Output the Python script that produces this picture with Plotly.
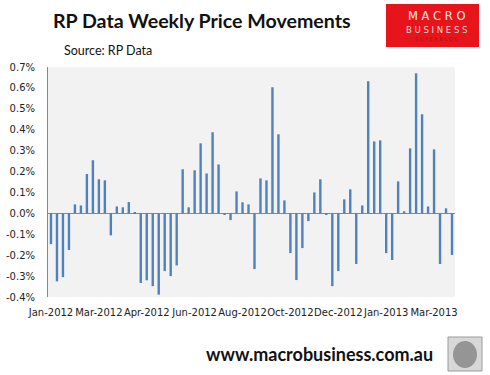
import plotly.graph_objects as go

# Weekly price movement (%), Jan-2012 .. Mar-2013
values = [
    -0.147, -0.325, -0.305, -0.175, 0.043, 0.038, 0.188, 0.254, 0.163, 0.158,
    -0.105, 0.033, 0.029, 0.054, 0.006, -0.333, -0.320, -0.348, -0.389, -0.276,
    -0.300, -0.249, 0.211, 0.029, 0.206, 0.335, 0.191, 0.388, 0.234, -0.008,
    -0.032, 0.105, 0.053, 0.043, -0.266, 0.167, 0.158, 0.603, 0.378, 0.062,
    -0.190, -0.319, -0.166, -0.037, 0.100, 0.163, -0.008, -0.348, -0.276, 0.067,
    0.115, -0.242, 0.038, 0.632, 0.344, 0.349, -0.190, -0.223, 0.153, 0.010,
    0.311, 0.670, 0.474, 0.033, 0.306, -0.242, 0.024, -0.199,
]
weeks = list(range(len(values)))
tick_weeks = [0, 8, 16, 24, 32, 40, 48, 56, 64]
tick_labels = ["Jan-2012", "Mar-2012", "Apr-2012", "Jun-2012", "Aug-2012",
               "Oct-2012", "Dec-2012", "Jan-2013", "Mar-2013"]
y_ticks = [-0.4, -0.3, -0.2, -0.1, 0.0, 0.1, 0.2, 0.3, 0.4, 0.5, 0.6, 0.7]
y_labels = ["-0.4%", "-0.3%", "-0.2%", "-0.1%", "0.0%", "0.1%", "0.2%",
            "0.3%", "0.4%", "0.5%", "0.6%", "0.7%"]

W, H = 490, 375
L, R, T, B = 48, 455, 67, 297


def px(x):
    return (x - L) / (R - L)


def py(y):
    return (B - y) / (B - T)


fig = go.Figure(go.Bar(
    x=weeks, y=values, marker=dict(color="#4F81BD", line=dict(width=0)),
))

axis_font = dict(family="DejaVu Sans", size=10, color="#222222")

fig.update_layout(
    width=W, height=H,
    margin=dict(l=L, r=W - R, t=T, b=H - B, pad=0, autoexpand=False),
    paper_bgcolor="white", plot_bgcolor="#F2F2F2",
    bargap=0.6, showlegend=False,
    xaxis=dict(
        range=[-0.5, len(values) - 0.5], tickmode="array",
        tickvals=tick_weeks, ticktext=tick_labels, tickangle=0,
        showgrid=False, zeroline=False, showline=False, ticks="",
        tickfont=axis_font, ticklabelstandoff=8, automargin=False,
    ),
    yaxis=dict(
        range=[-0.4, 0.7], tickmode="array", tickvals=y_ticks,
        ticktext=y_labels, showgrid=False,
        zeroline=True, zerolinecolor="#888888", zerolinewidth=1,
        showline=True, linecolor="#888888", linewidth=1, ticks="",
        tickfont=axis_font, ticklabelstandoff=10, automargin=False,
    ),
)


def text(t, x, y, size, color="#111111", family="Lato", xanchor="center"):
    return dict(text=t, x=px(x), y=py(y), xref="paper", yref="paper",
                xanchor=xanchor, yanchor="middle", showarrow=False,
                font=dict(family=family, size=size, color=color))


ann = [
    text("<b>RP Data Weekly Price Movements</b>", 202, 20, 19.6),
    text("Source: RP Data", 62, 51, 12.5, xanchor="left"),
    text("<b>www.macrobusiness.com.au</b>", 319, 354, 18),
    text("M A C R O", 436, 16, 11.5, "#FFE8E8", "DejaVu Sans"),
    text("B U S I N E S S", 436, 30, 8.5, "#FFD8D8", "DejaVu Sans"),
    text("S U P E R B L O G", 436, 39, 5, "#B01010", "DejaVu Sans"),
]

shapes = [
    dict(type="rect", xref="paper", yref="paper",
         x0=px(386), x1=px(479), y0=py(4), y1=py(47),
         fillcolor="#E8141B", line=dict(width=0), layer="below"),
    dict(type="rect", xref="paper", yref="paper",
         x0=px(448), x1=px(482), y0=py(337), y1=py(371),
         fillcolor="#D8D8D8", line=dict(color="#9A9A9A", width=1)),
    dict(type="circle", xref="paper", yref="paper",
         x0=px(453), x1=px(477), y0=py(341), y1=py(368),
         fillcolor="#959595", line=dict(width=0)),
]

fig.update_layout(annotations=ann, shapes=shapes)
fig.write_html("out.html", config={"displayModeBar": False},
               post_script="document.body.style.margin='0';")
